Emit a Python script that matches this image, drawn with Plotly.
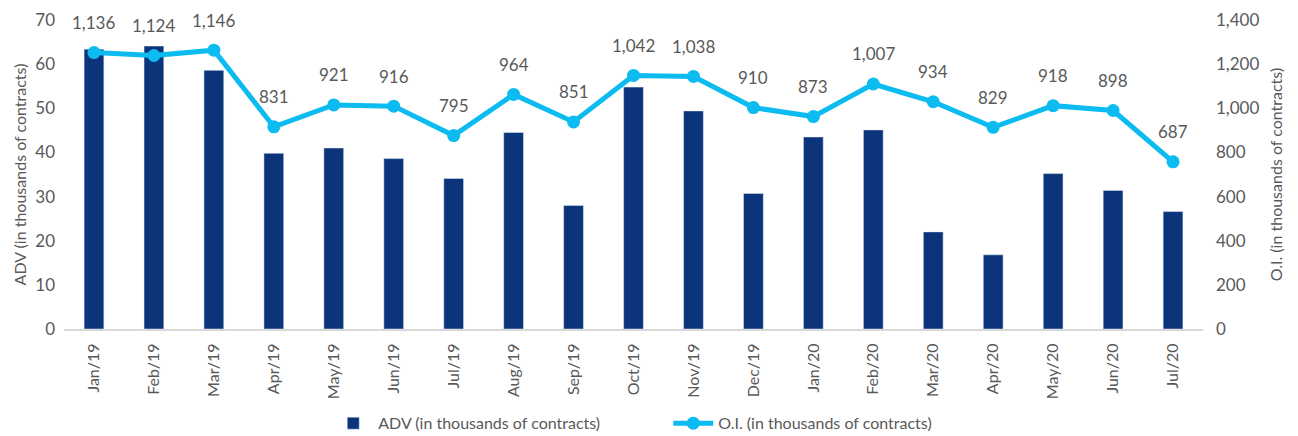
import plotly.graph_objects as go

months = [
    "Jan/19", "Feb/19", "Mar/19", "Apr/19", "May/19", "Jun/19", "Jul/19",
    "Aug/19", "Sep/19", "Oct/19", "Nov/19", "Dec/19", "Jan/20", "Feb/20",
    "Mar/20", "Apr/20", "May/20", "Jun/20", "Jul/20",
]
adv = [
    63.4, 64.1, 58.6, 39.8, 41.0, 38.6, 34.1, 44.5, 28.0, 54.8,
    49.4, 30.7, 43.5, 45.1, 22.0, 16.8, 35.2, 31.4, 26.6,
]
open_interest = [
    1136, 1124, 1146, 831, 921, 916, 795, 964, 851, 1042,
    1038, 910, 873, 1007, 934, 829, 918, 898, 687,
]

BAR_COLOR = "#0b347a"
LINE_COLOR = "#0cbbef"
TEXT_COLOR = "#595959"
FONT = "Lato"

fig = go.Figure()
fig.add_trace(go.Bar(
    x=months, y=adv, name="ADV (in thousands of contracts)",
    marker_color=BAR_COLOR, yaxis="y",
))
# line is drawn slightly higher than the printed O.I. scale in the original
fig.add_trace(go.Scatter(
    x=months, y=open_interest, name="O.I. (in thousands of contracts)",
    mode="lines+markers", yaxis="y3",
    line=dict(color=LINE_COLOR, width=5),
    marker=dict(color=LINE_COLOR, size=13),
))
# dummy trace to activate the visible right axis
fig.add_trace(go.Scatter(x=[months[0]], y=[0], yaxis="y2", mode="markers",
                         marker_opacity=0, showlegend=False, hoverinfo="skip"))

for m, v in zip(months, open_interest):
    fig.add_annotation(
        x=m, y=v, yref="y3", text=f"{v:,}", showarrow=False, yshift=30,
        font=dict(size=17, color=TEXT_COLOR, family=FONT),
    )

# page body adds an 8px margin, so the figure is a bit smaller than the window
fig.update_layout(
    width=1290, height=428,
    margin=dict(l=56, r=95, t=12, b=107, autoexpand=False),
    plot_bgcolor="white", paper_bgcolor="white",
    font=dict(family=FONT, color=TEXT_COLOR, size=15),
    bargap=0.67,
    showlegend=True,
    legend=dict(orientation="h", x=0.232, xanchor="left", y=-0.25, yanchor="top",
                font=dict(size=16, color=TEXT_COLOR), itemwidth=40,
                entrywidth=285, entrywidthmode="pixels"),
    xaxis=dict(
        range=[-0.5, len(months) - 0.5],
        tickangle=-90, showgrid=False, showline=True, linecolor="#d9d9d9",
        linewidth=2, ticks="", tickfont=dict(size=16), ticklabelstandoff=6,
        automargin=False,
    ),
    yaxis=dict(
        range=[0, 70], dtick=10, showgrid=False, zeroline=False,
        tickfont=dict(size=17), ticks="", ticklabelstandoff=8, automargin=False,
        title=dict(text="ADV (in thousands of contracts)", font=dict(size=16), standoff=4),
    ),
    yaxis2=dict(
        range=[0, 1400], dtick=200, overlaying="y", side="right",
        showgrid=False, zeroline=False, tickformat=",", tickfont=dict(size=17),
        ticks="", ticklabelstandoff=12, automargin=False,
        title=dict(text="O.I. (in thousands of contracts)", font=dict(size=16), standoff=12),
    ),
    yaxis3=dict(
        range=[0, 1270], overlaying="y", side="right", visible=False,
    ),
)

fig.write_html("out.html")
